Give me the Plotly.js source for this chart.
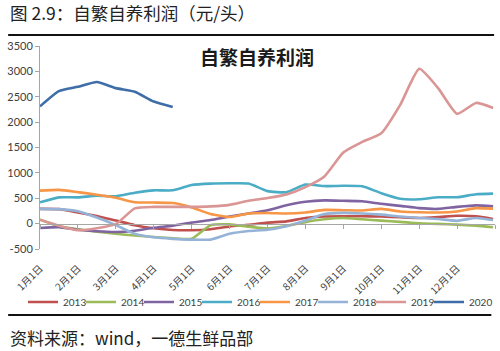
<!DOCTYPE html>
<html>
<head>
<meta charset="utf-8">
<script src="https://cdn.plot.ly/plotly-3.0.1.min.js"></script>
<style>html,body{margin:0;padding:0;background:#fff;}#chart{width:500px;height:351px;}</style>
</head>
<body>
<div id="chart"></div>
<script>
// semi-monthly sampling positions (1 = 1月1日, 13 = next 1月1日)
const monthPos = [1,1.5,2,2.5,3,3.5,4,4.5,5,5.5,6,6.5,7,7.5,8,8.5,9,9.5,10,10.5,11,11.5,12,12.5,12.95];

const xTickVals = [1,2,3,4,5,6,7,8,9,10,11,12,13];
const xTickText = ['1月1日','2月1日','3月1日','4月1日','5月1日','6月1日','7月1日','8月1日','9月1日','10月1日','11月1日','12月1日',''];
const yTickVals = [-500,0,500,1000,1500,2000,2500,3000,3500];
const yTickText = ['-500','0','500','1000','1500','2000','2500','3000','3500'];

const seriesNames = ['2013','2014','2015','2016','2017','2018','2019','2020'];

const p2013 = [290,285,220,150,60,-30,-90,-125,-130,-110,-55,-25,20,45,110,140,144,144,140,125,112,130,155,145,92];
const p2014 = [79,-50,-110,-160,-200,-235,-265,-290,-300,-30,-15,-60,-95,-45,30,85,110,85,60,35,5,-5,-20,-40,-70];
const p2015 = [-85,-70,-120,-150,-165,-140,-80,-40,20,70,140,200,265,360,430,458,450,440,390,350,305,290,330,360,340];
const p2016 = [420,518,518,550,540,610,656,656,760,788,795,790,640,620,770,740,745,735,600,490,480,520,520,580,591];
const p2017 = [650,665,620,570,510,420,415,405,320,190,130,200,210,200,220,270,265,260,290,240,225,220,240,305,295];
const p2018 = [290,285,245,120,-30,-200,-270,-300,-315,-315,-200,-145,-120,-50,60,190,211,200,177,140,110,90,55,112,70];
const p2019 = [79,-40,-130,-90,-10,300,330,330,330,340,370,450,505,575,720,930,1400,1610,1780,2340,3050,2670,2165,2378,2280];
const p2020 = [2310,2610,2695,2790,2670,2600,2405,2300,null,null,null,null,null,null,null,null,null,null,null,null,null,null,null,null,null];

const seriesValues = [p2013,p2014,p2015,p2016,p2017,p2018,p2019,p2020];
const colors = ['#C0504D','#9BBB59','#8064A2','#4BACC6','#F79646','#95B3D7','#D99694','#3E6DA8'];

const legendIds = seriesNames.map((n,i) => i === 0 ? 'legend' : 'legend' + (i + 1));

const traces = seriesNames.map((n,i) => ({
  type:'scatter', mode:'lines', name:n,
  x: monthPos, y: seriesValues[i],
  line:{color:colors[i], width:2.6, shape:'spline', smoothing:0.5},
  connectgaps:false,
  legend: legendIds[i]
}));

const cjk = '"Noto Sans CJK SC", "Noto Sans", sans-serif';
const lat = 'Lato, "Noto Sans CJK SC", sans-serif';
const legendFont = {family:lat, size:10, color:'#404040'};

const layout = {
  width:500, height:351,
  margin:{l:40, r:5, t:46, b:102, autoexpand:false},
  paper_bgcolor:'#fff', plot_bgcolor:'#fff',
  showlegend:true,
  title:{text:'<b>自繁自养利润</b>', font:{family:cjk, size:19, color:'#1a1a1a'},
         x:0.477, xref:'paper', xanchor:'center', y:0.835, yref:'container', yanchor:'middle'},
  xaxis:{range:[1,13], anchor:'free', position:0.125,
         showline:true, linecolor:'#a6a6a6', linewidth:1,
         ticks:'outside', ticklen:4, tickcolor:'#a6a6a6',
         tickvals:xTickVals, ticktext:xTickText, tickangle:-45,
         ticklabelstandoff:30,
         tickfont:{family:cjk, size:10, color:'#404040'},
         showgrid:false, zeroline:false, fixedrange:true},
  yaxis:{range:[-500,3500], tickvals:yTickVals, ticktext:yTickText,
         showline:true, linecolor:'#a6a6a6', linewidth:1,
         ticks:'outside', ticklen:4, tickcolor:'#a6a6a6',
         tickfont:{family:lat, size:11, color:'#404040'},
         showgrid:false, zeroline:false, fixedrange:true},
  annotations:[
    {text:'图 2.9：自繁自养利润（元/头）', xref:'paper', yref:'paper', x:-0.070, y:1.163,
     xanchor:'left', yanchor:'middle', showarrow:false, font:{family:cjk, size:17.5, color:'#222'}},
    {text:'资料来源：wind，一德生鲜品部', xref:'paper', yref:'paper', x:-0.070, y:-0.438,
     xanchor:'left', yanchor:'middle', showarrow:false, font:{family:cjk, size:17, color:'#222'}}
  ],
  shapes:[
    {type:'line', xref:'paper', yref:'paper', x0:-0.070, x1:0.998, y0:1.054, y1:1.054, line:{color:'#111', width:2}},
    {type:'line', xref:'paper', yref:'paper', x0:-0.070, x1:0.992, y0:-0.325, y1:-0.325, line:{color:'#111', width:2}}
  ]
};

// one legend box per series, laid out in a single row
const plotLeft = 40, plotWidth = 455, legendStart = 23, legendStep = 58;
legendIds.forEach((id,i) => {
  layout[id] = {orientation:'h', x:(legendStart + legendStep*i - plotLeft)/plotWidth, xanchor:'left',
                y:-0.261, yanchor:'middle', font:legendFont, bgcolor:'rgba(0,0,0,0)'};
});

Plotly.newPlot('chart', traces, layout, {displayModeBar:false, staticPlot:true});
</script>
</body>
</html>
